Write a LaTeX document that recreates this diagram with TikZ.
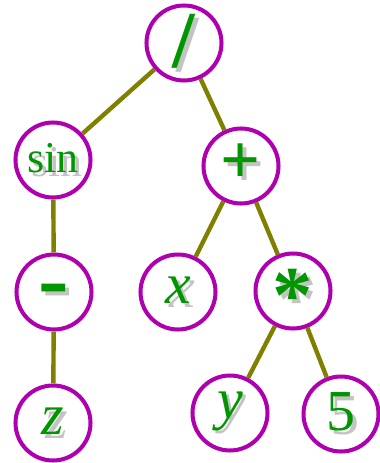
\documentclass[tikz,border=0pt]{standalone}
\usepackage{fontspec}
\setmainfont{Liberation Serif}
\definecolor{termpurple}{RGB}{175,0,175}
\definecolor{termgreen}{RGB}{0,150,0}
\definecolor{edgeolive}{RGB}{128,128,0}
\definecolor{shadowgray}{RGB}{195,195,195}
\newcommand{\shadowed}[1]{\makebox[0pt][l]{\hspace{2.2pt}\raisebox{-2.2pt}{\textcolor{shadowgray}{#1}}}\textcolor{termgreen}{#1}}

\begin{document}
\begin{tikzpicture}[
  x=0.02cm,y=-0.02cm,
  term/.style={circle,draw=termpurple,line width=2.3pt,fill=white,minimum size=1.5cm,inner sep=0pt,font=\fontsize{33}{33}\selectfont},
  op/.style={term,font=\fontsize{40}{40}\selectfont\bfseries},
  edge/.style={draw=edgeolive,line width=2.5pt}
]
  \useasboundingbox (0,0) rectangle (379,463);
  \node[op,font=\fontsize{46}{46}\selectfont\bfseries] (div) at (184,43) {\shadowed{/}};
  \node[term,font=\fontsize{25}{25}\selectfont] (sin) at (53,160) {\shadowed{sin}};
  \node[op] (plus) at (241,166) {\shadowed{+}};
  \node[op,font=\fontsize{52}{52}\selectfont\bfseries] (neg) at (54,292) {\smash{\raisebox{-10pt}{\shadowed{-}}}};
  \node[term] (x) at (178,292) {\shadowed{\textit{x}}};
  \node[op,font=\fontsize{46}{46}\selectfont\bfseries] (times) at (293,291) {\smash{\raisebox{-18pt}{\shadowed{*}}}};
  \node[term] (z) at (53,423) {\shadowed{\textit{z}}};
  \node[term] (y) at (230,413) {\shadowed{\textit{y}}};
  \node[term] (five) at (341,414) {\shadowed{5}};
  \draw[edge] (div) -- (sin);
  \draw[edge] (div) -- (plus);
  \draw[edge] (sin) -- (neg);
  \draw[edge] (neg) -- (z);
  \draw[edge] (plus) -- (x);
  \draw[edge] (plus) -- (times);
  \draw[edge] (times) -- (y);
  \draw[edge] (times) -- (five);
\end{tikzpicture}
\end{document}
